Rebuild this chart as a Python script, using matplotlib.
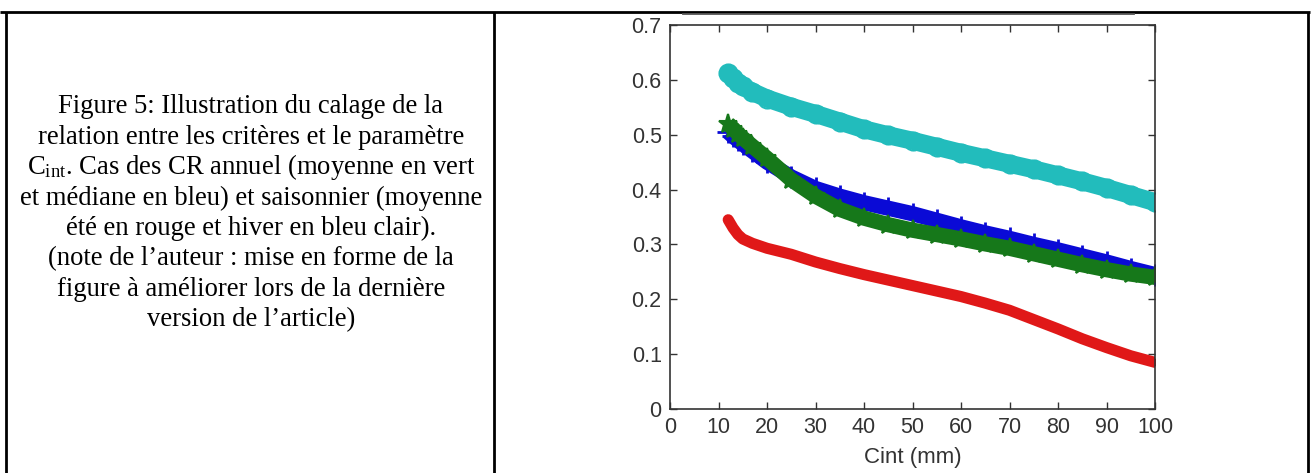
import matplotlib

matplotlib.use("Agg")

from matplotlib import pyplot as plt
from matplotlib.lines import Line2D
from matplotlib import font_manager

# values (Cint in mm)
cint = [12, 13, 14, 15, 17, 20, 25, 30, 35, 40, 45, 50, 55, 60, 65, 70, 75, 80, 85, 90, 95, 100]
hiver = [0.612, 0.603, 0.595, 0.588, 0.578, 0.566, 0.551, 0.538, 0.524, 0.510, 0.499,
         0.489, 0.478, 0.467, 0.457, 0.447, 0.437, 0.426, 0.415, 0.403, 0.390, 0.377]
mediane = [0.505, 0.497, 0.490, 0.483, 0.470, 0.450, 0.423, 0.402, 0.388, 0.376, 0.366,
           0.356, 0.344, 0.332, 0.321, 0.311, 0.300, 0.290, 0.279, 0.268, 0.256, 0.245]
moyenne = [0.520, 0.511, 0.502, 0.494, 0.479, 0.457, 0.418, 0.388, 0.364, 0.348, 0.336,
           0.326, 0.318, 0.310, 0.301, 0.293, 0.283, 0.273, 0.263, 0.254, 0.246, 0.240]
ete = [0.345, 0.330, 0.318, 0.310, 0.302, 0.293, 0.282, 0.268, 0.256, 0.245, 0.235,
       0.225, 0.215, 0.205, 0.193, 0.180, 0.163, 0.146, 0.128, 0.112, 0.097, 0.085]

xticks = [0, 10, 20, 30, 40, 50, 60, 70, 80, 90, 100]
yticks = [0, 0.1, 0.2, 0.3, 0.4, 0.5, 0.6, 0.7]

caption = [
    "Figure 5: Illustration du calage de la",
    "relation entre les critères et le paramètre",
    r"C$_{\mathrm{int}}$. Cas des CR annuel (moyenne en vert",
    "et médiane en bleu) et saisonnier (moyenne",
    "été en rouge et hiver en bleu clair).",
    "(note de l’auteur : mise en forme de la",
    "figure à améliorer lors de la dernière",
    "version de l’article)",
]

W, H = 1311, 473
plt.rcParams["mathtext.fontset"] = "custom"
plt.rcParams["mathtext.rm"] = "Liberation Serif"
plt.rcParams["mathtext.it"] = "Liberation Serif:italic"

# narrow sans for the matlab-looking tick labels, if one is around
names = {f.name for f in font_manager.fontManager.ttflist}
narrow = [n for n in ("Liberation Sans Narrow", "DejaVu Sans Condensed") if n in names]
print("narrow fonts:", narrow)
tick_font = dict(family=(narrow + ["Liberation Sans"])[0], fontsize=15.5, color="#333333")

fig = plt.figure(figsize=(W / 100, H / 100), dpi=100)
fig.patch.set_facecolor("white")

# table borders around the caption and the chart
border = dict(color="black", lw=2.0, solid_capstyle="butt")
fig.add_artist(Line2D([0, 1310 / W], [1 - 12.5 / H] * 2, **border))
for xp in (6, 494, 1308):
    fig.add_artist(Line2D([xp / W] * 2, [0, 1 - 12.5 / H], **border))
# leftover edge of the matlab window
fig.add_artist(Line2D([683 / W, 1134 / W], [1 - 14.5 / H] * 2, color="#555555", lw=1.3))

for i, line in enumerate(caption):
    fig.text(251 / W, 1 - (113 + i * 30.5) / H, line, ha="center", va="baseline",
             fontsize=19.2, family="Liberation Serif", color="black")

ax = fig.add_axes([670 / W, 1 - 409 / H, (1155 - 670) / W, (409 - 25) / H])

ax.plot(cint, hiver, color="#22bcbc", lw=13, marker="o", ms=13, mfc="none",
        mec="#22bcbc", mew=1.5, solid_capstyle="round")
ax.plot(cint, ete, color="#e01818", lw=8, marker=".", ms=9, solid_capstyle="round")
ax.plot(cint, mediane, color="#0a0ad6", lw=11, marker="+", ms=16, mew=2,
        solid_capstyle="butt")
ax.plot(cint, moyenne, color="#16781a", lw=11, marker="*", ms=14, mew=1.5,
        solid_capstyle="butt")

ax.set_xlim(0, 100)
ax.set_ylim(0, 0.7)
ax.set_xticks(xticks)
ax.set_yticks(yticks)
ax.set_xticklabels([str(t) for t in xticks], **tick_font)
ax.set_yticklabels(["0" if t == 0 else f"{t:.1f}" for t in yticks], **tick_font)
ax.tick_params(direction="in", top=True, right=True, length=5, width=1, color="#333333")
ax.tick_params(axis="x", pad=6)
ax.tick_params(axis="y", pad=6)
for s in ax.spines.values():
    s.set_color("#333333")
    s.set_linewidth(1.2)
ax.set_xlabel("Cint (mm)", labelpad=6, **{**tick_font, "fontsize": 16})

fig.savefig("out.png", dpi=100, facecolor="white")
